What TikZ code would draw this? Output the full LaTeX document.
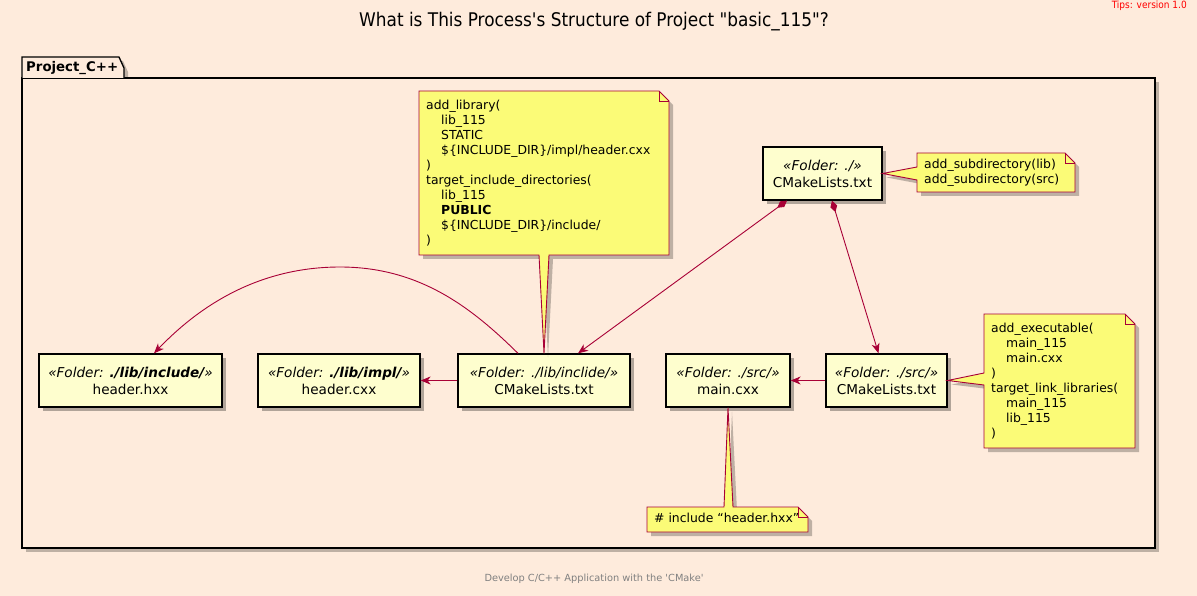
\documentclass[tikz,border=0pt]{standalone}
\usepackage{fontspec}
\setmainfont{DejaVu Sans}
\newfontfamily\condfont{DejaVu Sans Condensed}
\usetikzlibrary{arrows.meta,calc,shadows}
\definecolor{bg}{RGB}{254,235,220}
\definecolor{crim}{HTML}{A80036}
\definecolor{nodefill}{HTML}{FEFECE}
\definecolor{notefill}{HTML}{FBFB77}
\begin{document}
\begin{tikzpicture}[x=1pt,y=-1pt,
  box/.style={draw=black, line width=1.3pt, fill=nodefill, minimum height=53pt, inner sep=0pt, align=center,
    font=\fontsize{13.6}{17}\selectfont,
    drop shadow={shadow xshift=4pt,shadow yshift=-4pt,opacity=0.3,fill=black}},
  notetext/.style={inner sep=0pt, align=left, anchor=north west, font=\fontsize{12.4}{15}\selectfont},
  link/.style={draw=crim, line width=0.9pt, -{Stealth[length=10pt,width=8pt,inset=3pt]}},
  compos/.style={draw=crim, line width=0.9pt, {Diamond[length=12pt,width=7pt]}-{Stealth[length=10pt,width=8pt,inset=3pt]}},
  notepath/.style={draw=crim, line width=0.9pt, fill=notefill, line join=miter,
    preaction={fill=black, opacity=0.25, draw=none, transform canvas={shift={(4pt,-4pt)}}}},
  fold/.style={draw=crim, line width=0.9pt},
]
\fill[bg] (0,0) rectangle (1197,596);
\useasboundingbox (0,0) rectangle (1197,596);

% title, tips, footer
\node (title) at (594,22) {\condfont\fontsize{18.8}{22}\selectfont What is This Process\textquotesingle s Structure of Project \textquotedbl basic\_115\textquotedbl ?};
\node[anchor=north east, text=red, inner sep=0pt] (tips) at (1187,1) {\condfont\fontsize{10}{12}\selectfont Tips: version 1.0};
\node[text=black!50] (footer) at (594,579) {\fontsize{9.8}{11}\selectfont Develop C/C++ Application with the \textquotesingle CMake\textquotesingle};

% package
\fill[black,opacity=0.25] (26,82) rectangle (1159,552);
\fill[black,opacity=0.25] (26,61) -- (123,61) -- (128,72) -- (128,82) -- (26,82) -- cycle;
\draw[line width=1.3pt, fill=bg] (22,78) rectangle (1155,548);
\draw[line width=1.3pt, fill=bg] (22,78) -- (22,57) -- (119,57) -- (124,68) -- (124,78);
\node[anchor=west, inner sep=0pt, font=\bfseries\fontsize{13.3}{15}\selectfont] (pkg) at (26,68) {Project\_C++};

% boxes
\node[box, minimum width=183pt] (hxx) at (130.5,380.5) {\textit{«Folder: \textbf{./lib/include/}»}\\header.hxx};
\node[box, minimum width=162pt] (cxx) at (339,380.5) {\textit{«Folder: \textbf{./lib/impl/}»}\\header.cxx};
\node[box, minimum width=172pt] (libcm) at (544,380.5) {\textit{«Folder: ./lib/inclide/»}\\CMakeLists.txt};
\node[box, minimum width=124pt] (main) at (728,380.5) {\textit{«Folder: ./src/»}\\main.cxx};
\node[box, minimum width=121pt] (srccm) at (886.5,380.5) {\textit{«Folder: ./src/»}\\CMakeLists.txt};
\node[box, minimum width=119pt] (root) at (822.5,173.5) {\textit{«Folder: ./»}\\CMakeLists.txt};

% note 1
\coordinate (n1a) at (419,91);
\coordinate (n1b) at (669,255);
\path[notepath] (n1a) -- ($(n1a -| n1b)+(-10,0)$) -- ($(n1a -| n1b)+(0,10)$) -- (n1b)
  -- ($(libcm.north |- n1b)+(5,0)$) -- (libcm.north) -- ($(libcm.north |- n1b)+(-5,0)$) -- (n1a |- n1b) -- cycle;
\draw[fold] ($(n1a -| n1b)+(-10,0)$) -- ($(n1a -| n1b)+(-10,10)$) -- ($(n1a -| n1b)+(0,10)$);
\node[notetext] (n1) at (426,100) {add\_library(\\
\hspace*{15pt}lib\_115\\
\hspace*{15pt}STATIC\\
\hspace*{15pt}\$\{INCLUDE\_DIR\}/impl/header.cxx\\
)\\
target\_include\_directories(\\
\hspace*{15pt}lib\_115\\
\hspace*{15pt}\textbf{PUBLIC}\\
\hspace*{15pt}\$\{INCLUDE\_DIR\}/include/\\
)};

% note 2
\coordinate (n2a) at (917,153);
\coordinate (n2b) at (1075,192);
\path[notepath] (n2a) -- ($(n2a -| n2b)+(-10,0)$) -- ($(n2a -| n2b)+(0,10)$) -- (n2b)
  -- (n2a |- n2b) -- ($(n2a)+(0,27)$) -- (root.east) -- ($(n2a)+(0,14)$) -- cycle;
\draw[fold] ($(n2a -| n2b)+(-10,0)$) -- ($(n2a -| n2b)+(-10,10)$) -- ($(n2a -| n2b)+(0,10)$);
\node[notetext] (n2) at (924,159) {add\_subdirectory(lib)\\add\_subdirectory(src)};

% note 3
\coordinate (n3a) at (984,314);
\coordinate (n3b) at (1135,448);
\path[notepath] (n3a) -- ($(n3a -| n3b)+(-10,0)$) -- ($(n3a -| n3b)+(0,10)$) -- (n3b)
  -- (n3a |- n3b) -- ($(n3a)+(0,71)$) -- (srccm.east) -- ($(n3a)+(0,59)$) -- cycle;
\draw[fold] ($(n3a -| n3b)+(-10,0)$) -- ($(n3a -| n3b)+(-10,10)$) -- ($(n3a -| n3b)+(0,10)$);
\node[notetext] (n3) at (991,323) {add\_executable(\\
\hspace*{15pt}main\_115\\
\hspace*{15pt}main.cxx\\
)\\
target\_link\_libraries(\\
\hspace*{15pt}main\_115\\
\hspace*{15pt}lib\_115\\
)};

% note 4
\coordinate (n4a) at (647,507);
\coordinate (n4b) at (808,532);
\path[notepath] (n4a) -- ($(main.south |- n4a)+(-4,0)$) -- (main.south) -- ($(main.south |- n4a)+(5,0)$)
  -- ($(n4a -| n4b)+(-10,0)$) -- ($(n4a -| n4b)+(0,10)$) -- (n4b) -- (n4a |- n4b) -- cycle;
\draw[fold] ($(n4a -| n4b)+(-10,0)$) -- ($(n4a -| n4b)+(-10,10)$) -- ($(n4a -| n4b)+(0,10)$);
\node[notetext] (n4) at (654,513) {\# include “header.hxx”};

% connectors
\draw[compos] ($(root.south)+(-35.5,0)$) -- ($(libcm.north)+(34,0)$);
\draw[compos] ($(root.south)+(9.5,0)$) -- ($(srccm.north)+(-8,0)$);
\draw[link] (libcm.west) -- (cxx.east);
\draw[link] (srccm.west) -- (main.east);
\draw[link] ($(libcm.north)+(-26,0)$) .. controls (472,308) and (420,267) .. (340,267)
  .. controls (265,267) and (205,300) .. ($(hxx.north)+(23.5,0)$);
\end{tikzpicture}
\end{document}
